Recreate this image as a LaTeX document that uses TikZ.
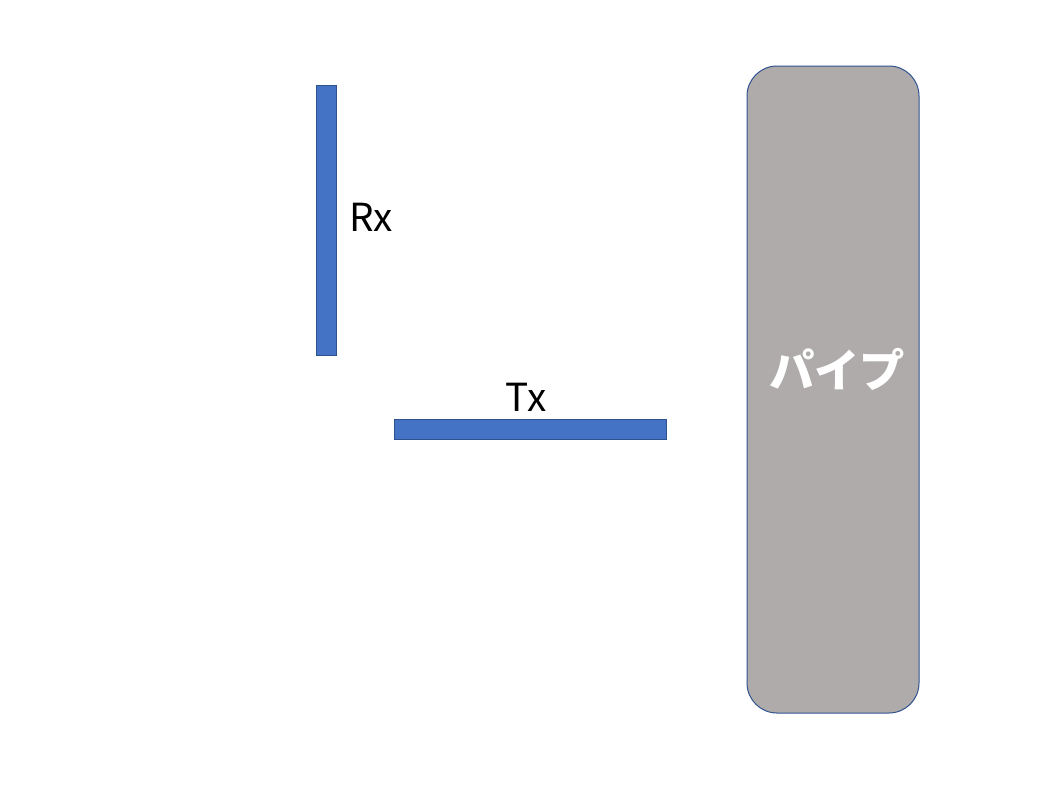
\documentclass[tikz,border=0pt]{standalone}
\usepackage{fontspec}
\setmainfont{Noto Sans CJK JP}
\begin{document}
\begin{tikzpicture}[x=0.75pt,y=-0.75pt,
  bar/.style={draw=barline,fill=barfill,line width=0.75pt},
  pipebox/.style={draw=barline,fill=pipefill,line width=0.75pt,rounded corners=22.5pt},
  lbl/.style={font=\fontsize{29}{34}\selectfont\addfontfeature{FakeBold=0}, text=black, inner sep=0pt}]
\definecolor{barfill}{HTML}{4472C4}
\definecolor{barline}{HTML}{2F528F}
\definecolor{pipefill}{HTML}{AFABAB}
\useasboundingbox (0,0) rectangle (1045,786);
\path[bar] (316,85) rectangle (336,355);
\node (rxbar) at (326,220) {};
\path[bar] (394,419) rectangle (666,439);
\node (txbar) at (530,429) {};
\path[pipebox] (747,66) rectangle (919,713);
\node (pipe) at (833,390) {};
\node[lbl,font=\fontsize{29}{34}\selectfont,anchor=west] (rx) at (349,217) {Rx};
\node[lbl,font=\fontsize{29}{34}\selectfont] (tx) at (526,397) {Tx};
\node[font=\fontsize{34}{40}\selectfont\bfseries,text=white,inner sep=0pt] (pipelabel) at (837,369) {パイプ};
\end{tikzpicture}
\end{document}
